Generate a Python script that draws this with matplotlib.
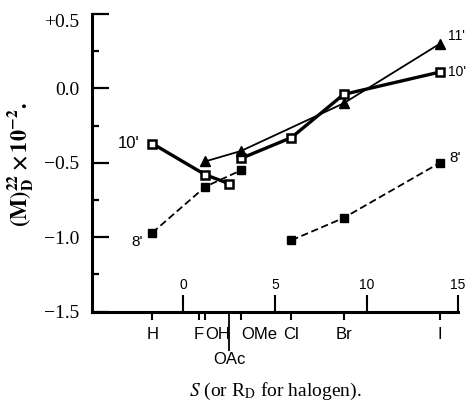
import numpy as np
import matplotlib
matplotlib.use("Agg")
import matplotlib.pyplot as plt
from matplotlib.ticker import FixedLocator, FixedFormatter

# substituent positions on the S (or R_D) scale
subs = ["H", "F", "OH", "OAc", "OMe", "Cl", "Br", "I"]
s_vals = [-1.7, 0.85, 1.2, 2.5, 3.15, 5.9, 8.75, 14.0]
scale_ticks = [0, 5, 10, 15]

# series: None marks a break in the line
keys_10 = ["H", "OH", "OAc", None, "OMe", "Cl", "Br", "I"]
vals_10 = [-0.37, -0.58, -0.64, np.nan, -0.47, -0.33, -0.04, 0.11]
keys_11 = ["OH", "OMe", "Br", "I"]
vals_11 = [-0.49, -0.42, -0.10, 0.30]
keys_8 = ["H", "OH", "OMe", None, "Cl", "Br", "I"]
vals_8 = [-0.97, -0.66, -0.55, np.nan, -1.02, -0.87, -0.50]

pos = dict(zip(subs, s_vals))
def xs(keys):
    return [pos[k] if k is not None else np.nan for k in keys]

sans = ["Liberation Sans", "DejaVu Sans"]
serif = ["Liberation Serif", "DejaVu Serif"]
plt.rcParams["mathtext.fontset"] = "stix"

fig = plt.figure(figsize=(4.66, 4.01), dpi=100)
ax = fig.add_axes([0.197, 0.2227, 0.786, 0.7423])
ax.set_xlim(-5, 15)
ax.set_ylim(-1.5, 0.5)

for sp in ["top", "right"]:
    ax.spines[sp].set_visible(False)
for sp in ["left", "bottom"]:
    ax.spines[sp].set_linewidth(2.2)

# y axis
ax.set_yticks([-1.5, -1.0, -0.5, 0.0, 0.5])
ax.set_yticklabels(["\u22121.5", "\u22121.0", "\u22120.5", "0.0", "+0.5"],
                   family=serif, fontsize=14)
ax.yaxis.set_minor_locator(FixedLocator([-1.25, -0.75, -0.25, 0.25]))
ax.tick_params(axis="y", which="major", direction="in", length=12, width=1.6, pad=9)
ax.tick_params(axis="y", which="minor", direction="in", length=5, width=1.6)
ax.get_yticklabels()[-1].set_va("top")

# substituent ticks below the axis
main_subs = [s for s in subs if s != "OAc"]
ax.xaxis.set_major_locator(FixedLocator([pos[s] for s in main_subs]))
ax.xaxis.set_major_formatter(FixedFormatter(main_subs))
ax.xaxis.set_minor_locator(FixedLocator([pos["OAc"]]))
ax.xaxis.set_minor_formatter(FixedFormatter(["OAc"]))
ax.tick_params(axis="x", which="major", direction="out", length=6, width=1.5, pad=5,
               labelsize=12)
ax.tick_params(axis="x", which="minor", direction="out", length=28, width=1.3, pad=1,
               labelsize=12)
for lab in ax.get_xticklabels(which="both"):
    lab.set_family(sans)
for lab in ax.get_xticklabels():
    if lab.get_text() in ("OH", "OMe"):
        lab.set_ha("left")

# numeric scale above the axis
ax2 = ax.twiny()
ax2.set_xlim(-5, 15)
for sp in ["left", "right", "bottom"]:
    ax2.spines[sp].set_visible(False)
ax2.spines["top"].set_position(("axes", 0))
ax2.spines["top"].set_visible(False)
ax2.set_xticks(scale_ticks)
ax2.set_xticklabels([str(t) for t in scale_ticks], family=sans, fontsize=10)
ax2.tick_params(axis="x", direction="out", length=12, width=1.5, pad=2)

# series
ax.plot(xs(keys_10), vals_10, "-", color="black", lw=2.4, marker="s", ms=6,
        mfc="white", mec="black", mew=1.8, zorder=3)
ax.plot(xs(keys_11), vals_11, "-", color="black", lw=1.3, marker="^", ms=7,
        mfc="black", mec="black", zorder=4)
ax.plot(xs(keys_8), vals_8, "--", color="black", lw=1.3, dashes=(4, 2), marker="s",
        ms=6, mfc="black", mec="black", zorder=2)

# curve labels
ax.text(pos["H"] - 0.7, vals_10[0], "10'", family=sans, fontsize=12,
        ha="right", va="center")
ax.text(pos["H"] - 0.5, vals_8[0] - 0.06, "8'", family=sans, fontsize=11,
        ha="right", va="center")
ax.text(pos["I"] + 0.45, vals_11[-1] + 0.05, "11'", family=sans, fontsize=10,
        ha="left", va="center")
ax.text(pos["I"] + 0.45, vals_10[-1], "10'", family=sans, fontsize=10,
        ha="left", va="center")
ax.text(pos["I"] + 0.5, vals_8[-1] + 0.03, "8'", family=sans, fontsize=11,
        ha="left", va="center")

fig.text(0.045, 0.59, r"$\mathbf{(M)_{D}^{22}\times 10^{-2}.}$", rotation=90,
         ha="center", va="center", fontsize=16)
fig.text(0.59, 0.025, r"$S$ (or R$_{\rm D}$ for halogen).", family=serif,
         fontsize=14, ha="center", va="center")

fig.savefig("out.png", dpi=100)
